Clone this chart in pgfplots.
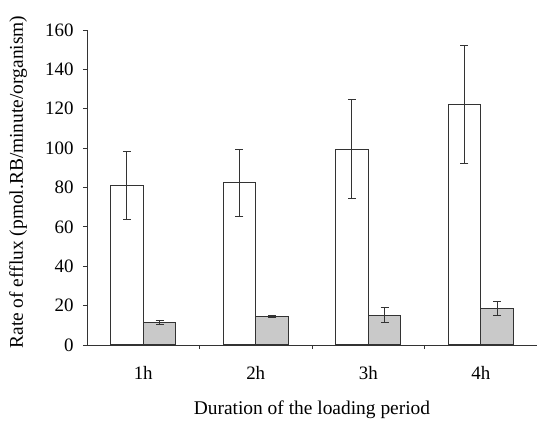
\documentclass[border=0pt]{standalone}
\usepackage{pgfplots}
\pgfplotsset{compat=1.18}
\usepackage{fontspec}
\setmainfont{Liberation Serif}
\pgfplotstableread{
x y e
1 81 17.5
2 82.5 17
3 99.5 25
4 122 30
}\whitebars
\pgfplotstableread{
x y e
1 11.5 1
2 14.5 0.5
3 15 3.8
4 18.5 3.5
}\greybars
\definecolor{barfill}{HTML}{C9C9C9}
\definecolor{ink}{HTML}{333333}
\begin{document}
\begin{tikzpicture}
\begin{axis}[
  at={(0,0)}, anchor=south west,
  scale only axis, width=450bp, height=315bp,
  xmin=0.5, xmax=4.5, ymin=0, ymax=160,
  axis x line*=bottom, axis y line*=left,
  axis line style={ink, line width=1pt},
  ytick={0,20,...,160},
  xtick={1.5,2.5,3.5}, xticklabels={},
  extra x ticks={1,2,3,4}, extra x tick labels={1h,2h,3h,4h},
  extra x tick style={major tick length=0pt, xticklabel style={yshift=-18bp}},
  tick align=outside, major tick length=4bp,
  tick style={ink, line width=0.8pt},
  /pgf/number format/assume math mode=true,
  ticklabel style={font=\fontsize{19}{19}\selectfont},
  yticklabel style={xshift=-6bp},
  xlabel={Duration of the loading period},
  ylabel={Rate of efflux (pmol.RB/minute/organism)},
  label style={font=\fontsize{19.5}{19.5}\selectfont},
  xlabel style={at={(axis description cs:0.5,-0.206)}, anchor=center},
  ylabel style={at={(axis description cs:-0.153,0.517)}, anchor=center},
  ybar=0pt, bar width=0.29,
  clip=false,
]
\addplot[fill=white, draw=ink, line width=1.1pt,
  error bars/.cd, y dir=both, y explicit,
  error bar style={ink, line width=1pt},
  error mark options={rotate=90, mark size=4bp, ink, line width=1pt}]
  table[x=x, y=y, y error=e] {\whitebars};
\addplot[fill=barfill, draw=ink, line width=1.1pt,
  error bars/.cd, y dir=both, y explicit,
  error bar style={ink, line width=1pt},
  error mark options={rotate=90, mark size=4bp, ink, line width=1pt}]
  table[x=x, y=y, y error=e] {\greybars};
\end{axis}
\pgfresetboundingbox
\path (-87bp,-76bp) rectangle (451bp,345bp);
\end{tikzpicture}
\end{document}
